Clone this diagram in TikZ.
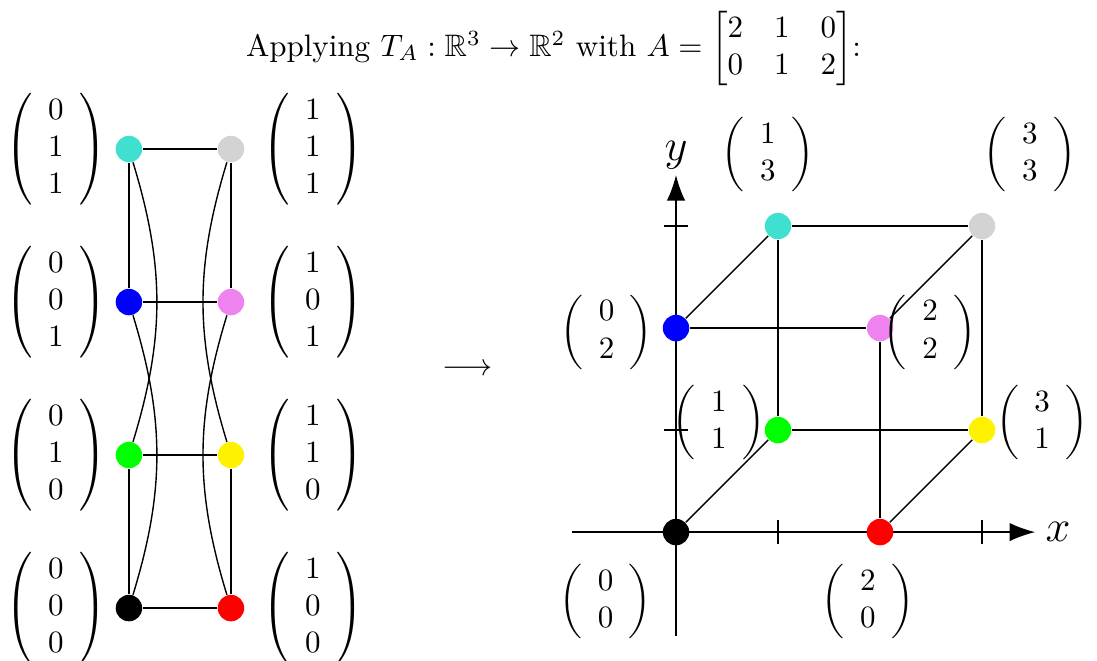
\documentclass[tikz,border=0pt]{standalone}
\usepackage{amsmath,amssymb}
\usetikzlibrary{arrows.meta}
\definecolor{turq}{RGB}{64,224,208}
\definecolor{lgray}{RGB}{211,211,211}
\definecolor{viol}{RGB}{238,130,238}
\definecolor{pgreen}{RGB}{0,255,0}
\newcommand\vthree[3]{$\left(\begin{array}{c}#1\\#2\\#3\end{array}\right)$}
\newcommand\vtwo[2]{$\left(\begin{array}{c}#1\\#2\end{array}\right)$}
\begin{document}
\begin{tikzpicture}[x=1.156cm,y=1.156cm,
  dot/.style={circle,inner sep=0pt,minimum size=0.3cm},
  edge/.style={line width=0.45pt},
  axis/.style={line width=0.45pt,-{Latex[length=2.9mm,width=2.1mm]}},
  vec/.style={inner sep=0pt},
  axlabel/.style={font=\Large}]
\useasboundingbox (-6.627,-1.255) rectangle (4.127,5.216);

% title and map arrow
\node[inner sep=0pt] (title) at (-1.2,4.74) {Applying $T_A:\mathbb{R}^3\to\mathbb{R}^2$ with $A=\begin{bmatrix}2&1&0\\0&1&2\end{bmatrix}$:};
\node (map) at (-2.04,1.59) {$\longrightarrow$};

% ---------- left cube (domain) ----------
\node[dot,fill=turq]   (Lc) at (-5.363,3.755) {};
\node[dot,fill=lgray]  (Lg) at (-4.363,3.755) {};
\node[dot,fill=blue]   (Lb) at (-5.363,2.255) {};
\node[dot,fill=viol]   (Lv) at (-4.363,2.255) {};
\node[dot,fill=pgreen] (Lgr) at (-5.363,0.755) {};
\node[dot,fill=yellow] (Ly) at (-4.363,0.755) {};
\node[dot,fill=black]  (Lk) at (-5.363,-0.745) {};
\node[dot,fill=red]    (Lr) at (-4.363,-0.745) {};

\draw[edge] (Lc) -- (Lg);
\draw[edge] (Lb) -- (Lv);
\draw[edge] (Lgr) -- (Ly);
\draw[edge] (Lk) -- (Lr);
\draw[edge] (Lc) -- (Lb);
\draw[edge] (Lgr) -- (Lk);
\draw[edge] (Lg) -- (Lv);
\draw[edge] (Ly) -- (Lr);
\draw[edge] (Lc) to[bend left=17] (Lgr);
\draw[edge] (Lb) to[bend left=17] (Lk);
\draw[edge] (Lg) to[bend right=17] (Ly);
\draw[edge] (Lv) to[bend right=17] (Lr);

\node[vec] (vLc)  at (-6.08,3.755)  {\vthree{0}{1}{1}};
\node[vec] (vLb)  at (-6.08,2.255)  {\vthree{0}{0}{1}};
\node[vec] (vLgr) at (-6.08,0.755)  {\vthree{0}{1}{0}};
\node[vec] (vLk)  at (-6.08,-0.745) {\vthree{0}{0}{0}};
\node[vec] (vLg)  at (-3.56,3.755)  {\vthree{1}{1}{1}};
\node[vec] (vLv)  at (-3.56,2.255)  {\vthree{1}{0}{1}};
\node[vec] (vLy)  at (-3.56,0.755)  {\vthree{1}{1}{0}};
\node[vec] (vLr)  at (-3.56,-0.745) {\vthree{1}{0}{0}};

% ---------- right image ----------
\coordinate (xs) at (-1.02,0);
\coordinate (xe) at (3.52,0);
\coordinate (ys) at (0,-1.02);
\coordinate (ye) at (0,3.5);
\draw[axis] (xs) -- (xe);
\draw[axis] (ys) -- (ye);
\node[axlabel] (xl) at (3.745,0) {$x$};
\node[axlabel] (yl) at (0,3.69) {$y$};
\foreach \t in {1,2,3} {
  \draw[edge] (\t,-0.12) -- (\t,0.12);
  \draw[edge] (-0.12,\t) -- (0.12,\t);
}

\node[dot,fill=black]  (Rk)  at (0,0) {};
\node[dot,fill=red]    (Rr)  at (2,0) {};
\node[dot,fill=pgreen] (Rgr) at (1,1) {};
\node[dot,fill=yellow] (Ry)  at (3,1) {};
\node[dot,fill=blue]   (Rb)  at (0,2) {};
\node[dot,fill=viol]   (Rv)  at (2,2) {};
\node[dot,fill=turq]   (Rc)  at (1,3) {};
\node[dot,fill=lgray]  (Rg)  at (3,3) {};

\draw[edge] (Rk) -- (Rr);
\draw[edge] (Rk) -- (Rb);
\draw[edge] (Rk) -- (Rgr);
\draw[edge] (Rr) -- (Rv);
\draw[edge] (Rr) -- (Ry);
\draw[edge] (Rgr) -- (Ry);
\draw[edge] (Rgr) -- (Rc);
\draw[edge] (Rb) -- (Rv);
\draw[edge] (Rb) -- (Rc);
\draw[edge] (Rv) -- (Rg);
\draw[edge] (Ry) -- (Rg);
\draw[edge] (Rc) -- (Rg);

\node[vec] (vRc)  at (0.90,3.70)   {\vtwo{1}{3}};
\node[vec] (vRg)  at (3.47,3.70)   {\vtwo{3}{3}};
\node[vec] (vRb)  at (-0.68,1.96)  {\vtwo{0}{2}};
\node[vec] (vRv)  at (2.49,1.96)   {\vtwo{2}{2}};
\node[vec] (vRgr) at (0.42,1.07)   {\vtwo{1}{1}};
\node[vec] (vRy)  at (3.59,1.07)   {\vtwo{3}{1}};
\node[vec] (vRk)  at (-0.69,-0.68) {\vtwo{0}{0}};
\node[vec] (vRr)  at (1.88,-0.68)  {\vtwo{2}{0}};
\end{tikzpicture}
\end{document}
